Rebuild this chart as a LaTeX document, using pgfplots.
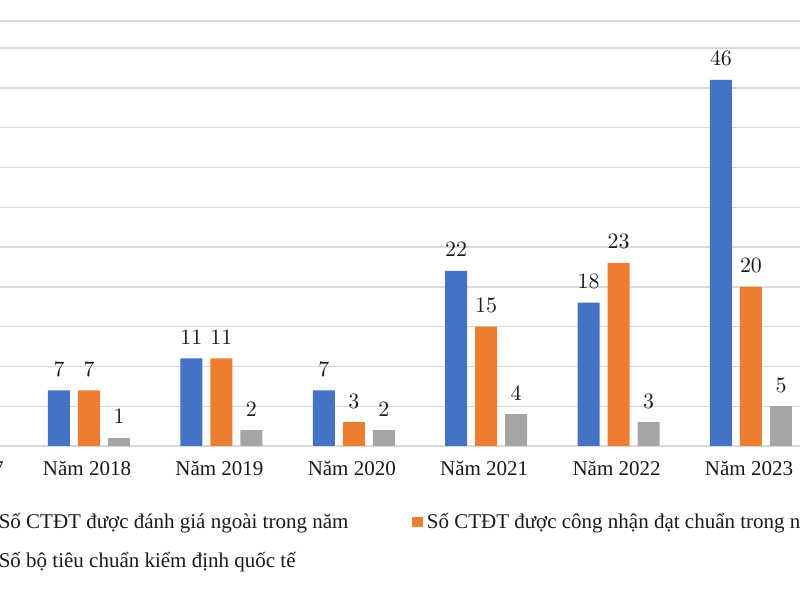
\documentclass[border=0pt]{standalone}
\usepackage{fontspec}
\setmainfont{Liberation Serif}
\usepackage{pgfplots}
\pgfplotsset{compat=1.18}
\definecolor{cblue}{HTML}{4472C4}
\definecolor{corange}{HTML}{ED7D31}
\definecolor{cgray}{HTML}{A5A5A5}
\definecolor{cgrid}{HTML}{D9D9D9}
\definecolor{ctext}{HTML}{1A1A1A}
\begin{document}
\begin{tikzpicture}
% the reference is a crop of a larger chart: clip to its frame
\path[use as bounding box] (0,0) rectangle (400pt,300pt);
\clip (0,0) rectangle (400pt,300pt);
\begin{axis}[
  at={(-54.8pt,77pt)}, anchor=south west,
  scale only axis, width=463.4pt, height=212.5pt,
  xmin=-0.5, xmax=6.5, ymin=0, ymax=53.4,
  ybar, bar width=11pt,
  axis line style={draw=none},
  xtick={0,...,6},
  xticklabels={\hspace*{5pt}Năm 2017,Năm 2018,Năm 2019,Năm 2020,Năm 2021,Năm 2022,Năm 2023},
  xticklabel style={yshift=-4pt, xshift=-1pt},
  ytick={0,5,...,50,53.4}, yticklabel=\empty,
  major tick length=0pt,
  ymajorgrids, grid style={cgrid, line width=0.7pt},
  font=\fontsize{10.5}{12.6}\selectfont,
  ticklabel style={text=ctext},
  nodes near coords,
  every node near coord/.append style={text=ctext, yshift=3.5pt},
  legend columns=2,
  legend cell align=left,
  legend style={at={(0.0945,-0.1374)}, anchor=north west, draw=none, fill=none,
    font=\fontsize{10.5}{12.6}\selectfont, text=ctext,
    /tikz/every even column/.append style={column sep=30pt},
    row sep=6.5pt},
  legend image code/.code={\fill[#1] (0pt,-2.6pt) rectangle (5.2pt,2.6pt);},
]
\addplot[fill=cblue, draw=none, bar shift=-15pt] coordinates {
  (1,7) (2,11) (3,7) (4,22) (5,18) (6,46)};
\addlegendentry{Số CTĐT được đánh giá ngoài trong năm}
\addplot[fill=corange, draw=none, bar shift=0pt] coordinates {
  (1,7) (2,11) (3,3) (4,15) (5,23) (6,20)};
\addlegendentry{Số CTĐT được công nhận đạt chuẩn trong năm}
\addplot[fill=cgray, draw=none, bar shift=15pt] coordinates {
  (1,1) (2,2) (3,2) (4,4) (5,3) (6,5)};
\addlegendentry{Số bộ tiêu chuẩn kiểm định quốc tế}
\end{axis}
\end{tikzpicture}
\end{document}
